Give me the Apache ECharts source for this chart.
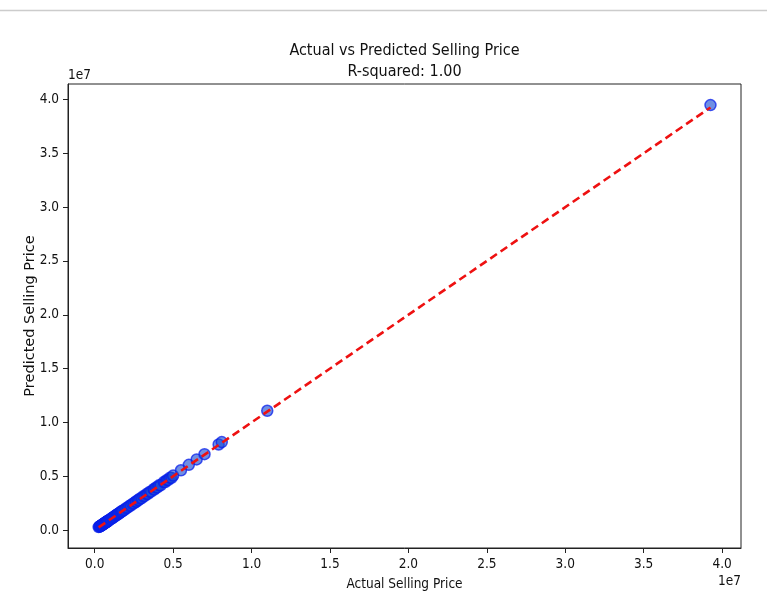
<!DOCTYPE html>
<html>
<head>
<meta charset="utf-8">
<script src="https://cdn.jsdelivr.net/npm/echarts@6/dist/echarts.min.js"></script>
<style>html,body{margin:0;padding:0;background:#fff}#c{width:767px;height:596px}</style>
</head>
<body>
<div id="c"></div>
<script>
const actualPrice = [250000, 300000, 320000, 350000, 380000, 400000, 420000, 450000, 480000, 500000,
  525000, 550000, 580000, 600000, 625000, 650000, 680000, 700000, 725000, 750000,
  780000, 800000, 825000, 850000, 900000, 950000, 1000000, 1050000, 1100000, 1150000,
  1200000, 1250000, 1300000, 1350000, 1400000, 1450000, 1500000, 1550000, 1600000, 1650000,
  1700000, 1750000, 1800000, 1900000, 2000000, 2100000, 2200000, 2300000, 2400000, 2500000,
  2600000, 2650000, 2750000, 2800000, 2900000, 3000000, 3100000, 3200000, 3300000, 3400000,
  3500000, 3600000, 3750000, 3800000, 3900000, 4000000, 4100000, 4200000, 4400000, 4500000,
  4600000, 4700000, 4800000, 4900000, 5000000, 5500000, 6000000, 6500000, 7000000, 7900000,
  8100000, 11000000, 39260000];
const predictedPrice = [270000, 310000, 335000, 348000, 392000, 405000, 431000, 446000, 490000, 508000,
  519000, 562000, 575000, 611000, 620000, 663000, 672000, 712000, 719000, 764000,
  771000, 815000, 818000, 862000, 893000, 961000, 1012000, 1043000, 1113000, 1141000,
  1214000, 1238000, 1316000, 1339000, 1418000, 1436000, 1521000, 1537000, 1619000, 1638000,
  1722000, 1736000, 1821000, 1884000, 2024000, 2082000, 2226000, 2281000, 2427000, 2478000,
  2631000, 2628000, 2779000, 2776000, 2932000, 2971000, 3135000, 3168000, 3339000, 3366000,
  3542000, 3561000, 3793000, 3761000, 3945000, 3958000, 4149000, 4158000, 4452000, 4455000,
  4651000, 4654000, 4853000, 4851000, 5060000, 5550000, 6060000, 6560000, 7050000, 7950000,
  8170000, 11080000, 39480000];
const tickValues = [0, 5000000, 10000000, 15000000, 20000000, 25000000, 30000000, 35000000, 40000000];
const titleText = 'Actual vs Predicted Selling Price';
const subTitleText = 'R-squared: 1.00';

const COND = "'DejaVu Sans Condensed', 'DejaVu Sans', sans-serif";
const NORM = "'DejaVu Sans', sans-serif";

const points = actualPrice.map((a, i) => [a, predictedPrice[i]]);
const lo = Math.min(...actualPrice), hi = Math.max(...actualPrice);

const chart = echarts.init(document.getElementById('c'), null, {renderer: 'canvas'});
const fmt = v => (v / 1e7).toFixed(1);

const axisCommon = {
  type: 'value',
  splitLine: {show: false},
  axisLine: {show: true, onZero: false, lineStyle: {color: '#222', width: 1}},
  axisTick: {show: true, length: 5, inside: false, customValues: tickValues, lineStyle: {color: '#222', width: 1}},
};

chart.setOption({
  animation: false,
  backgroundColor: '#fff',
  title: {
    text: titleText + '\n' + subTitleText,
    left: 404.5, top: 40, padding: 0, textAlign: 'center',
    textStyle: {fontFamily: COND, fontSize: 16, fontWeight: 'normal', color: '#111', lineHeight: 21}
  },
  grid: {left: 68, right: 26, top: 84, bottom: 47.5, show: true, borderColor: '#222', borderWidth: 1, backgroundColor: 'transparent'},
  xAxis: Object.assign({}, axisCommon, {
    min: -1704000, max: 41206000,
    name: 'Actual Selling Price', nameLocation: 'middle', nameGap: 29, nameMoveOverlap: false,
    nameTextStyle: {fontFamily: COND, fontSize: 13.5, color: '#111'},
    axisLabel: {customValues: tickValues, formatter: fmt, margin: 9, fontFamily: COND, fontSize: 13.5, color: '#111'}
  }),
  yAxis: Object.assign({}, axisCommon, {
    min: -1670000, max: 41440000,
    name: 'Predicted Selling Price', nameLocation: 'middle', nameGap: 30, nameMoveOverlap: false,
    nameTextStyle: {fontFamily: NORM, fontSize: 14.5, color: '#111'},
    axisLabel: {customValues: tickValues, formatter: fmt, margin: 9, fontFamily: COND, fontSize: 13.5, color: '#111'}
  }),
  graphic: [
    {type: 'line', shape: {x1: 0, y1: 10.5, x2: 767, y2: 10.5}, style: {stroke: '#cccccc', lineWidth: 1.5}},
    {type: 'text', x: 68, y: 75, style: {text: '1e7', fontFamily: COND, fontSize: 13.5, fill: '#111', textAlign: 'left', textVerticalAlign: 'middle'}},
    {type: 'text', x: 741, y: 581, style: {text: '1e7', fontFamily: COND, fontSize: 13.5, fill: '#111', textAlign: 'right', textVerticalAlign: 'middle'}}
  ],
  series: [
    {
      type: 'scatter', data: points, symbolSize: 11, z: 2,
      itemStyle: {color: 'rgba(30,80,212,0.8)', borderColor: 'rgba(8,30,235,0.92)', borderWidth: 1.5}
    },
    {
      type: 'line', data: [[lo, lo], [hi, hi]], showSymbol: false, symbol: 'none', z: 3,
      lineStyle: {color: '#ee1111', width: 2.6, type: [8, 4.5]}
    }
  ]
});
</script>
</body>
</html>
